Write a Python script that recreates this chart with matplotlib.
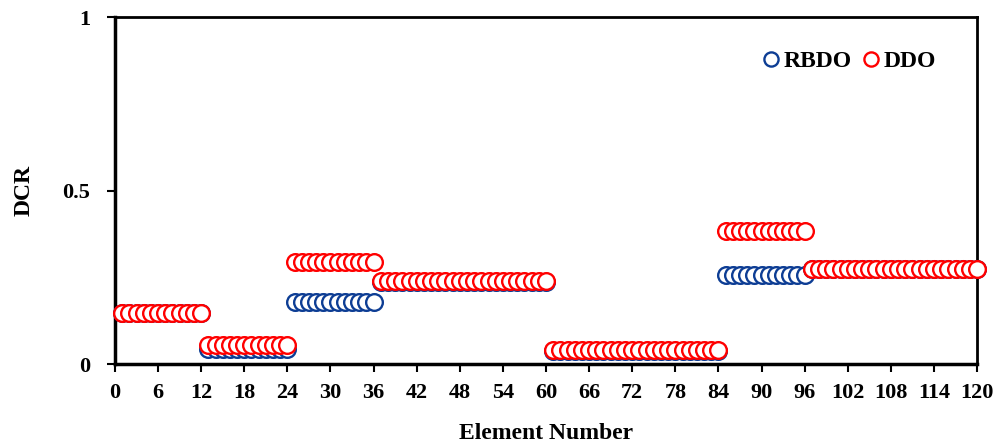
import numpy as np
import matplotlib
matplotlib.use("Agg")
import matplotlib.pyplot as plt

plt.rcParams['font.family'] = ['Liberation Serif', 'DejaVu Serif']
plt.rcParams['font.weight'] = 'bold'

# member groups (number of elements in each) and their DCR levels
group_sizes = [12, 12, 12, 24, 24, 12, 24]
rbdo_levels = [0.147, 0.043, 0.179, 0.236, 0.037, 0.256, 0.274]
ddo_levels = [0.147, 0.055, 0.294, 0.239, 0.040, 0.383, 0.274]

elements = np.arange(1, sum(group_sizes) + 1)
rbdo = np.repeat(rbdo_levels, group_sizes)
ddo = np.repeat(ddo_levels, group_sizes)

x_ticks = list(range(0, 121, 6))
y_ticks = [0, 0.5, 1]

fig = plt.figure(figsize=(9.97, 4.48), dpi=100)
ax = fig.add_axes([0.1153, 0.1875, 0.8647, 0.7745])

ax.plot(elements, rbdo, 'o', ms=12, mfc='white', mec='#0d3d94', mew=1.7,
        ls='none', label='RBDO', clip_on=False, zorder=3)
ax.plot(elements, ddo, 'o', ms=12, mfc='white', mec='#ff0000', mew=1.7,
        ls='none', label='DDO', clip_on=False, zorder=4)

ax.set_xlim(0, 120)
ax.set_ylim(0, 1)
ax.set_xticks(x_ticks)
ax.set_xticklabels([str(t) for t in x_ticks])
ax.set_yticks(y_ticks)
ax.set_yticklabels(['0', '0.5', '1'])
ax.tick_params(axis='both', direction='out', length=6, width=1.5,
               labelsize=16)
ax.tick_params(axis='x', pad=8)
ax.tick_params(axis='y', pad=12)
for lab in ax.get_xticklabels() + ax.get_yticklabels():
    lab.set_fontweight('bold')

for side in ['left', 'bottom']:
    ax.spines[side].set_linewidth(2.5)
for side in ['top', 'right']:
    ax.spines[side].set_linewidth(2.0)

ax.set_xlabel('Element Number', fontsize=17, fontweight='bold', labelpad=14)
ax.set_ylabel('DCR', fontsize=17, fontweight='bold', labelpad=20)

leg = ax.legend(loc='upper right', bbox_to_anchor=(0.977, 0.965), ncol=2,
                frameon=False, handlelength=0.8, handletextpad=0.15,
                columnspacing=0.4, markerscale=0.85,
                prop={'size': 17, 'weight': 'bold'})

fig.savefig('out.png', dpi=100)
